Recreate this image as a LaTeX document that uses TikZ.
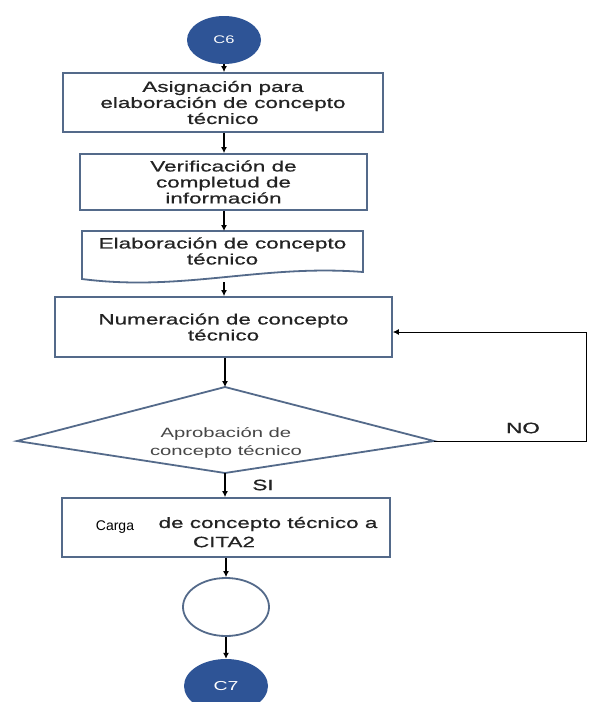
\documentclass[tikz,border=0pt]{standalone}
\usepackage{fontspec}
\setmainfont{Liberation Sans}
\newfontfamily\widebold{Liberation Sans}[FakeStretch=1.5,FakeBold=0.6]
\newfontfamily\widereg{Liberation Sans}[FakeStretch=1.5]
\usetikzlibrary{arrows.meta,shapes.geometric}
\definecolor{edgeblue}{RGB}{84,106,138}
\definecolor{termblue}{RGB}{46,84,150}
\definecolor{inktext}{RGB}{35,35,35}

\tikzset{
  procbox/.style={draw=edgeblue, line width=1.8pt, fill=white, inner sep=0pt,
    align=center, text=inktext, font=\widebold\fontsize{15}{16}\selectfont},
  boxtext/.style={align=center, inner sep=0pt, text=inktext,
    font=\widebold\fontsize{15}{16}\selectfont},
  flow/.style={-{Latex[length=6pt,width=6pt]}, line width=1.1pt, black},
  terminal/.style={ellipse, fill=termblue, draw=none, text=white, inner sep=0pt,
    font=\widereg\fontsize{11}{12}\selectfont},
  junction/.style={ellipse, draw=edgeblue, line width=1.8pt, fill=white, inner sep=0pt},
  tag/.style={inner sep=0pt, text=inktext, font=\widebold\fontsize{15}{16}\selectfont}
}

\begin{document}
\begin{tikzpicture}[x=1pt,y=-1pt]
\useasboundingbox[fill=white] (0,0) rectangle (592,702);

% start connector
\node[terminal, minimum width=74pt, minimum height=48pt] (c6) at (224,40) {C6};

% process boxes
\node[procbox, minimum width=320pt, minimum height=59pt] (asig) at (223,102.5)
  {Asignación para\\elaboración de concepto\\técnico};
\node[procbox, minimum width=287pt, minimum height=56pt] (verif) at (223.5,182)
  {Verificación de\\completud de\\información};

% document shape with wavy bottom
\draw[draw=edgeblue, line width=1.8pt, fill=white]
  (82,231) -- (363,231) -- (363,272)
  .. controls (262,264) and (182,292) .. (82,279) -- cycle;
\node[boxtext] (elab) at (222.5,251) {Elaboración de concepto\\técnico};
\coordinate (elabbot) at (224,282);
\coordinate (elabtop) at (224,231);

\node[procbox, minimum width=337pt, minimum height=60pt] (numer) at (223.5,327)
  {Numeración de concepto\\técnico};

% decision
\coordinate (dtop) at (225,387);
\coordinate (dleft) at (17,441);
\coordinate (dright) at (434,441);
\coordinate (dbot) at (225,473);
\draw[draw=edgeblue, line width=1.8pt, fill=white]
  (dtop) -- (dright) -- (dbot) -- (dleft) -- cycle;
\node[align=center, inner sep=0pt, text=black!72,
  font=\widereg\fontsize{13.5}{18}\selectfont] (aprob) at (226,443)
  {Aprobación de\\concepto técnico};

% upload box
\node[procbox, minimum width=328pt, minimum height=59pt] (carga) at (226,527.5) {};
\node[inner sep=0pt, text=black, font=\fontsize{14}{15}\selectfont] (cargaw) at (115,527) {Carga};
\node[tag] (cargarest) at (268,524) {de concepto técnico a};
\node[tag] (cita) at (224,542) {CITA2};

% closing connectors
\node[junction, minimum width=86pt, minimum height=58pt] (junc) at (226,607) {};
\node[terminal, minimum width=84pt, minimum height=54pt,
  font=\widereg\fontsize{13}{14}\selectfont] (c7) at (226,686) {C7};

% flow arrows
\draw[flow] (c6) -- (asig.north -| c6);
\draw[flow] (asig.south -| c6) -- (verif.north -| c6);
\draw[flow] (verif.south -| elabtop) -- (elabtop);
\draw[flow] (elabbot) -- (numer.north -| elabbot);
\draw[flow] (numer.south -| dtop) -- (dtop);
\draw[flow] (dbot) -- (carga.north -| dbot);
\draw[flow] (carga) -- (junc);
\draw[flow] (junc) -- (c7);

% rejection loop
\coordinate (loopx) at (586,441);
\draw[flow, line width=0.9pt] (dright) -- (loopx) |- ([yshift=-5pt]numer.east);
\node[tag] (no) at (523,428) {NO};
\node[tag] (si) at (263,485) {SI};
\end{tikzpicture}
\end{document}
